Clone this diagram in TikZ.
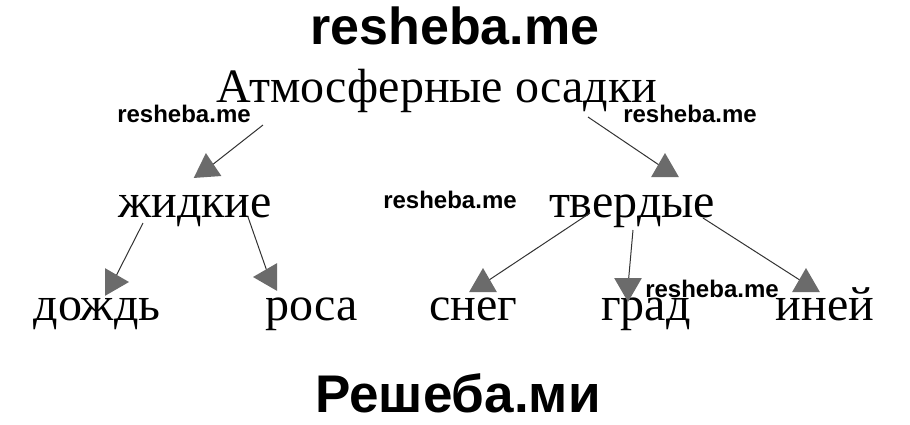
\documentclass[tikz,border=0pt]{standalone}
\usepackage{fontspec}
\setmainfont{Liberation Serif}
\newfontfamily\marksans{Liberation Sans}
\usetikzlibrary{shapes.geometric}

\begin{document}
\begin{tikzpicture}[x=1bp, y=-1bp,
  word/.style={anchor=base, inner sep=0pt, font=\fontsize{48bp}{56bp}\selectfont},
  bigmark/.style={anchor=base, inner sep=0pt, font=\marksans\bfseries\fontsize{52bp}{60bp}\selectfont},
  smallmark/.style={anchor=base, inner sep=0pt, font=\marksans\bfseries\fontsize{24bp}{28bp}\selectfont},
  link/.style={draw=black!80, line width=1bp},
  tip/.style={regular polygon, regular polygon sides=3, inner sep=0pt, minimum size=32bp, fill=black!58}
]
\useasboundingbox (0,0) rectangle (910,424);

% Watermarks
\node[bigmark] (mtop) at (455,44) {resheba.me};
\node[bigmark, font=\marksans\bfseries\fontsize{53bp}{60bp}\selectfont] (mbot) at (458,412) {Решеба.ми};
\node[smallmark] (m1) at (184,122) {resheba.me};
\node[smallmark] (m2) at (690,122) {resheba.me};
\node[smallmark] (m3) at (450,208) {resheba.me};
\node[smallmark] (m4) at (712,297) {resheba.me};

% Root
\node[word] (osadki) at (437,102) {Атмосферные осадки};

% Row 1
\node[word] (zhid) at (195,217) {жидкие};
\node[word] (tverd) at (632,217) {твердые};

% Row 2
\node[word] (dozhd) at (97,320) {дождь};
\node[word] (rosa) at (312,320) {роса};
\node[word] (sneg) at (473,320) {снег};
\node[word] (grad) at (646,320) {град};
\node[word] (iney) at (825,320) {иней};

% Arrows
\draw[link] ([shift={(-174,23)}]osadki.base) -- ([shift={(12,-48)}]zhid.base) node[tip, rotate=4] (t1) {};
\draw[link] ([shift={(151,15)}]osadki.base) -- ([shift={(33,-48)}]tverd.base) node[tip] (t2) {};
\draw[link] ([shift={(-52,6)}]zhid.base) -- ([shift={(16,-38)}]dozhd.base) node[tip, rotate=-90] (t3) {};
\draw[link] ([shift={(53,0)}]zhid.base) -- ([shift={(-43,-43)}]rosa.base) node[tip, rotate=90] (t4) {};
\draw[link] ([shift={(-42,-4)}]tverd.base) -- ([shift={(10,-36)}]sneg.base) node[tip] (t5) {};
\draw[link] ([shift={(1,13)}]tverd.base) -- ([shift={(-18,-34)}]grad.base) node[tip, rotate=180] (t6) {};
\draw[link] ([shift={(71,1)}]tverd.base) -- ([shift={(-19,-36)}]iney.base) node[tip] (t7) {};

\end{tikzpicture}
\end{document}
